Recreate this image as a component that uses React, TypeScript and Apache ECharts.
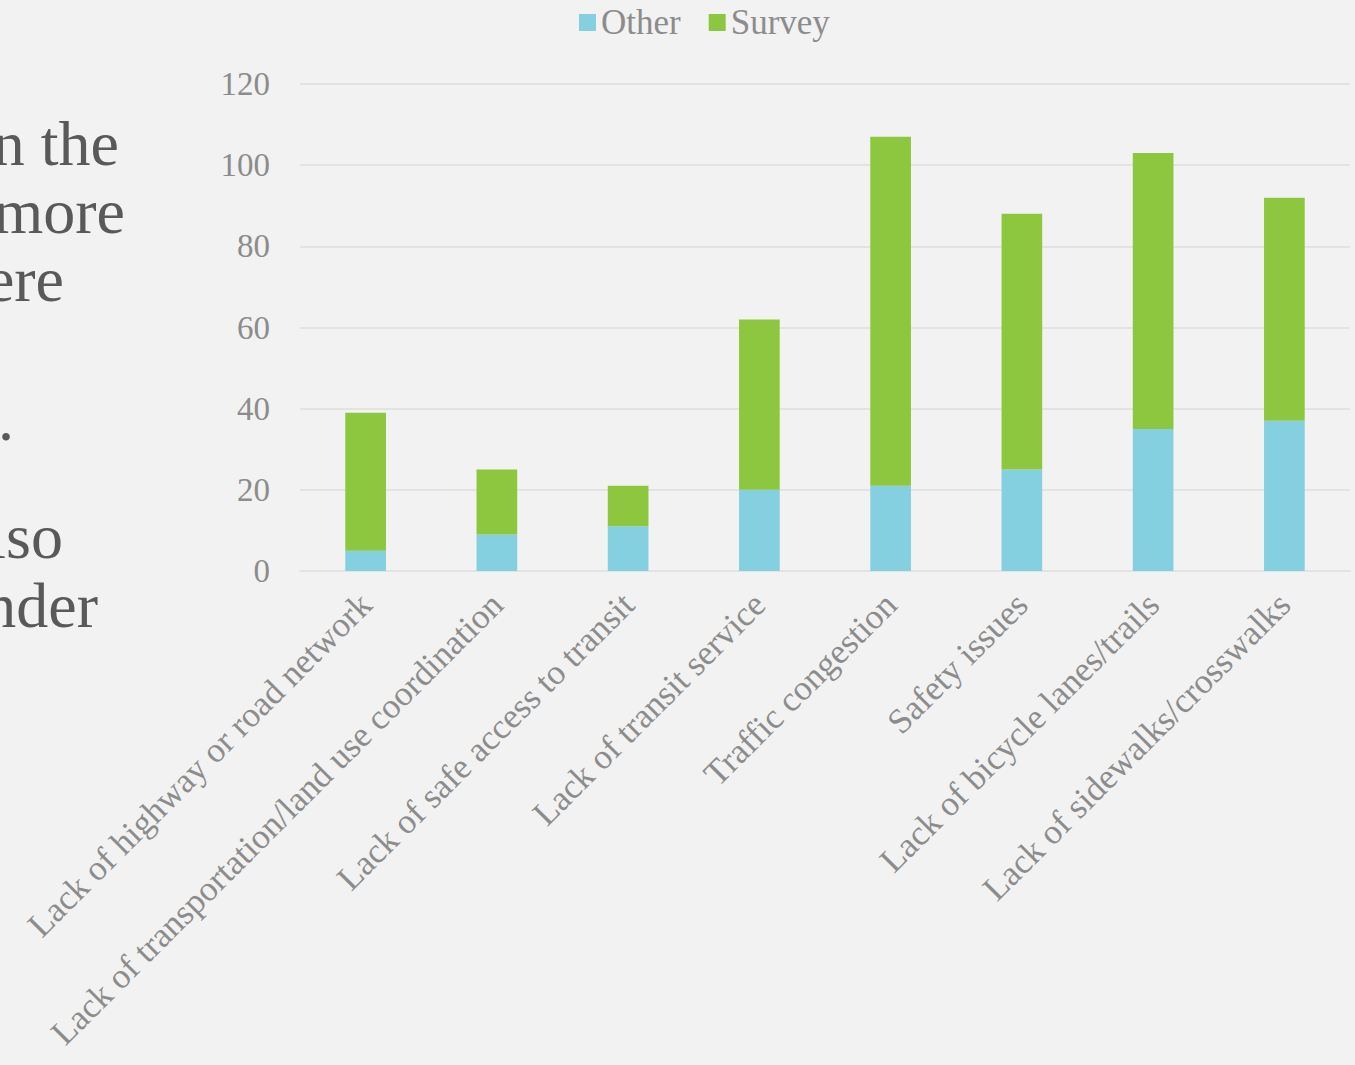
import React, { useEffect, useRef } from "react";
import * as echarts from "echarts";

const categories = [
  "Lack of highway or road network",
  "Lack of transportation/land use coordination",
  "Lack of safe access to transit",
  "Lack of transit service",
  "Traffic congestion",
  "Safety issues",
  "Lack of bicycle lanes/trails",
  "Lack of sidewalks/crosswalks",
];
const otherValues = [5, 9, 11, 20, 21, 25, 35, 37];
const surveyValues = [34, 16, 10, 42, 86, 63, 68, 55];
const sideTextLines = ["in the", "more", "were", ".", "also", "under"];
const sideTextEnds = [119, 125, 64, 14, 63, 98];
const sideTextBaselines = [165, 233, 301, 440, 558, 627];

const FONT = "'Palatino Linotype', 'Book Antiqua', Palatino, 'Liberation Serif', serif";

export default function App() {
  const ref = useRef<HTMLDivElement>(null);
  useEffect(() => {
    document.body.style.margin = "0";
    const chart = echarts.init(ref.current!, undefined, { renderer: "svg" });
    const fs = 64;
    chart.setOption({
      animation: false,
      backgroundColor: "#f2f2f2",
      textStyle: { fontFamily: FONT },
      legend: {
        top: 0,
        left: 574,
        itemWidth: 17,
        itemHeight: 17,
        itemGap: 28,
        icon: "rect",
        textStyle: { color: "#8c8c8c", fontSize: 35, fontFamily: FONT },
        data: ["Other", "Survey"],
      },
      grid: { left: 300, right: 5, top: 84, bottom: 494, containLabel: false },
      xAxis: {
        type: "category",
        data: categories,
        axisLine: { show: true, lineStyle: { color: "#e3e3e3", width: 2 } },
        axisTick: { show: false },
        axisLabel: {
          rotate: 45,
          interval: 0,
          margin: 28,
          color: "#8c8c8c",
          fontSize: 35,
          fontFamily: FONT,
        },
      },
      yAxis: {
        type: "value",
        min: 0,
        max: 120,
        interval: 20,
        axisLine: { show: false },
        axisTick: { show: false },
        splitLine: { lineStyle: { color: "#e3e3e3", width: 2 } },
        axisLabel: { color: "#8c8c8c", fontSize: 33, margin: 30, fontFamily: FONT },
      },
      series: [
        {
          name: "Other",
          type: "bar",
          stack: "total",
          barWidth: "31%",
          data: otherValues,
          itemStyle: { color: "#84d0e0" },
        },
        {
          name: "Survey",
          type: "bar",
          stack: "total",
          barWidth: "31%",
          data: surveyValues,
          itemStyle: { color: "#8dc63f" },
        },
      ],
      graphic: sideTextLines.map((t, i) => ({
        type: "text",
        x: sideTextEnds[i],
        y: sideTextBaselines[i] - fs * 0.33,
        style: {
          text: t,
          fill: "#595959",
          font: `${fs}px ${FONT}`,
          textAlign: "right",
          textVerticalAlign: "middle",
        },
      })),
    });
    return () => chart.dispose();
  }, []);
  return (
    <div
      ref={ref}
      style={{ position: "absolute", left: 0, top: 0, width: 1355, height: 1065 }}
    />
  );
}
